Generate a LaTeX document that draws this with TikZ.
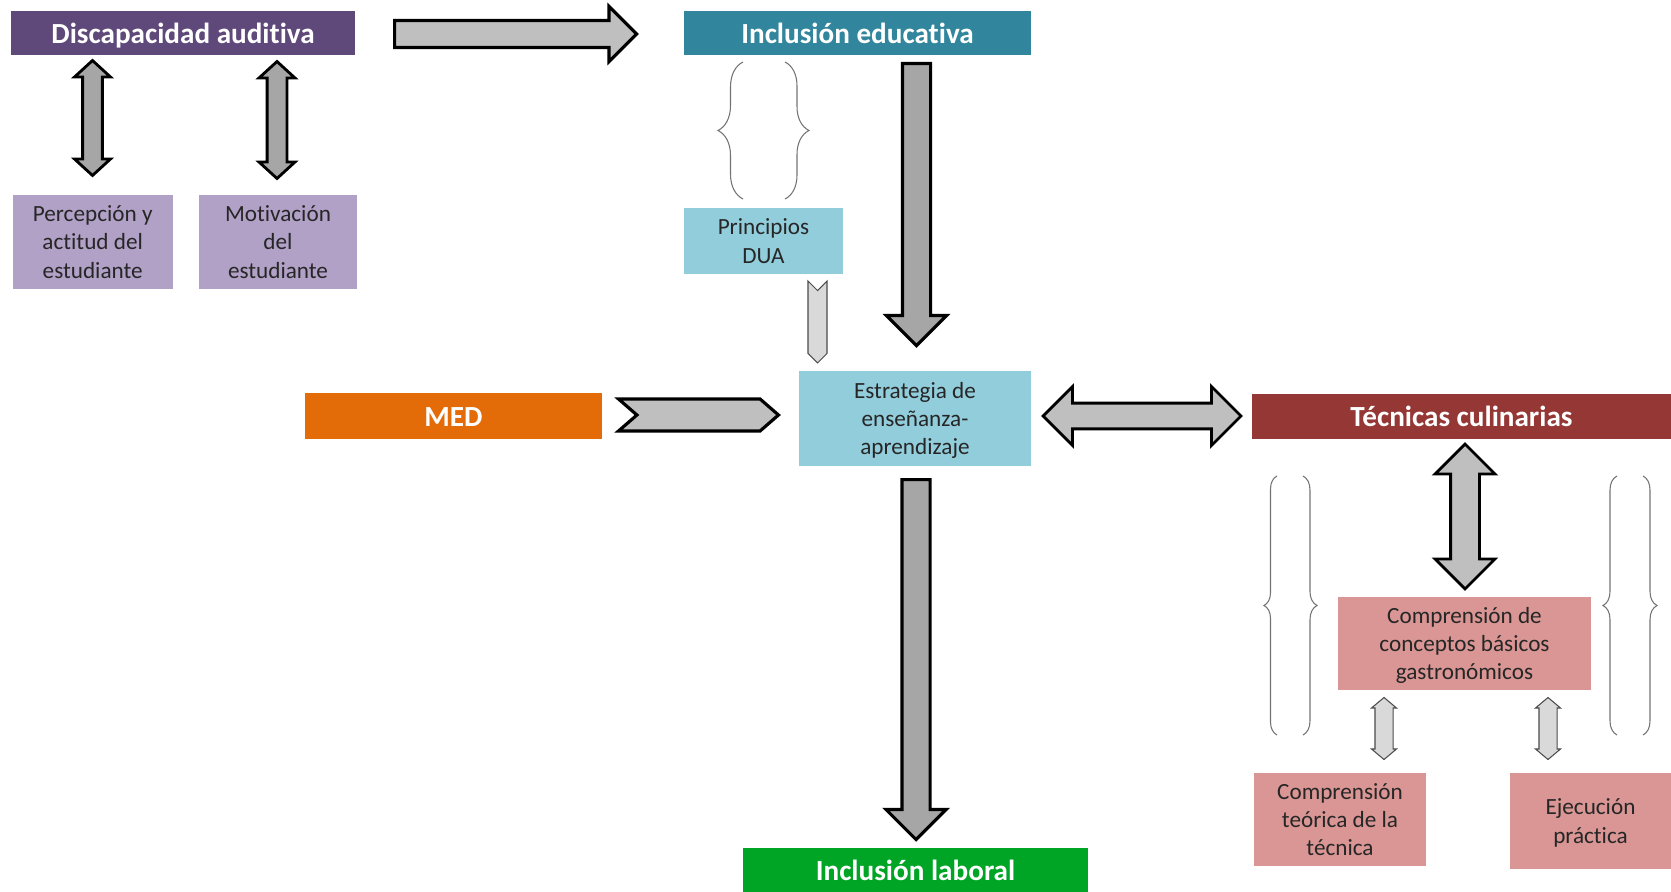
\documentclass[tikz,border=0pt]{standalone}
\usepackage{fontspec}
\setmainfont{Carlito}[Ligatures=NoCommon]
\usepackage{tikz}
\usetikzlibrary{shapes.arrows, shapes.symbols, decorations.pathreplacing}

\definecolor{morado}{HTML}{5F497A}
\definecolor{lila}{HTML}{B2A1C7}
\definecolor{azulosc}{HTML}{31859C}
\definecolor{celeste}{HTML}{92CDDC}
\definecolor{naranja}{HTML}{E36C09}
\definecolor{granate}{HTML}{953735}
\definecolor{rosa}{HTML}{D99694}
\definecolor{verde}{HTML}{00A525}
\definecolor{grisA}{HTML}{A6A6A6}
\definecolor{grisB}{HTML}{BFBFBF}
\definecolor{grisC}{HTML}{D9D9D9}
\definecolor{texto}{HTML}{262626}

\begin{document}
\begin{tikzpicture}[x=0.02cm, y=-0.02cm,
  titulo/.style={fill=#1, text=white, font=\fontsize{16.6}{19}\selectfont\bfseries, inner sep=0pt, text height=12.6pt, text depth=0.9pt},
  caja/.style={fill=#1, text=texto, font=\fontsize{13.2}{16.1}\selectfont, align=center, inner sep=0pt, text depth=0pt},
  flecha/.style={single arrow, draw=black, line width=1.8pt, fill=#1, inner xsep=0pt},
  dflecha/.style={double arrow, draw=black, line width=1.6pt, fill=#1, inner xsep=0pt},
  llave/.style={draw=black!55, line width=0.6pt, decorate, decoration={brace, amplitude=#1}}]
\useasboundingbox (0,0) rectangle (1671,892);

% cajas
\node[titulo=morado, minimum width=6.9cm, minimum height=0.9cm] (disc) at (183,33) {Discapacidad auditiva};
\node[titulo=azulosc, minimum width=6.94cm, minimum height=0.9cm] (edu) at (857.5,33) {Inclusión educativa};
\node[caja=lila, minimum width=3.2cm, minimum height=1.88cm] (perc) at (92.7,242) {Percepción y\\actitud del\\estudiante};
\node[caja=lila, minimum width=3.16cm, minimum height=1.88cm] (moti) at (278,242) {Motivación\\del\\estudiante};
\node[caja=celeste, minimum width=3.18cm, minimum height=1.32cm] (dua) at (763.5,241) {Principios\\DUA};
\node[titulo=naranja, minimum width=5.94cm, minimum height=0.92cm] (med) at (453.5,416) {MED};
\node[caja=celeste, minimum width=4.64cm, minimum height=1.9cm] (estr) at (915,418.5) {Estrategia de\\enseñanza-\\aprendizaje};
\node[titulo=granate, minimum width=8.38cm, minimum height=0.9cm] (tec) at (1461.5,416.5) {Técnicas culinarias};
\node[caja=rosa, minimum width=5.06cm, minimum height=1.86cm] (conc) at (1464.5,643.5) {Comprensión de\\conceptos básicos\\gastronómicos};
\node[caja=rosa, minimum width=3.44cm, minimum height=1.86cm] (teor) at (1340,819.5) {Comprensión\\teórica de la\\técnica};
\node[caja=rosa, minimum width=3.22cm, minimum height=1.92cm] (ejec) at (1590.5,821) {Ejecución\\práctica};
\node[titulo=verde, minimum width=6.9cm, minimum height=0.88cm] (lab) at (915.5,870) {Inclusión laboral};

% flechas
\node[flecha=grisB, anchor=tail, minimum height=4.84cm, inner ysep=0.24cm, single arrow head extend=0.28cm] (f1) at (393,34) {};
\node[dflecha=grisA, rotate=90, minimum height=2.3cm, inner ysep=0.17cm, double arrow head extend=0.16cm, double arrow tip angle=95] (f2) at (92.5,118) {};
\node[dflecha=grisA, rotate=90, minimum height=2.34cm, inner ysep=0.17cm, double arrow head extend=0.16cm, double arrow tip angle=95] (f3) at (277,120) {};
\node[flecha=grisA, rotate=-90, anchor=tail, minimum height=5.64cm, inner ysep=0.25cm, single arrow head extend=0.32cm] (f4) at (916.5,62) {};
\node[flecha=grisA, rotate=-90, anchor=tail, minimum height=7.2cm, inner ysep=0.25cm, single arrow head extend=0.32cm] (f5) at (916,478) {};
\node[dflecha=grisB, minimum height=3.96cm, inner ysep=0.23cm, double arrow head extend=0.33cm] (f6) at (1142,416) {};
\node[dflecha=grisB, rotate=90, minimum height=2.9cm, inner ysep=0.26cm, double arrow head extend=0.31cm] (f7) at (1465,516.5) {};
\node[dflecha=grisC, rotate=90, line width=0.6pt, draw=black!70, minimum height=1.24cm, inner ysep=0.17cm, double arrow head extend=0.07cm, double arrow tip angle=100] (f8) at (1384,728.5) {};
\node[dflecha=grisC, rotate=90, line width=0.6pt, draw=black!70, minimum height=1.24cm, inner ysep=0.17cm, double arrow head extend=0.07cm, double arrow tip angle=100] (f9) at (1548,728.5) {};
\node[signal, signal from=west, signal to=east, signal pointer angle=82, draw=black, line width=1.8pt, fill=grisB, inner sep=0pt, minimum width=3.2cm, minimum height=0.64cm] (f10) at (698.5,415) {};
\node[signal, signal from=north, signal to=south, draw=black!70, line width=0.6pt, fill=grisC, inner sep=0pt, minimum width=0.38cm, minimum height=1.26cm] (f11) at (817.5,322) {};

% llaves
\draw[llave=0.5cm] (743,199) -- (743,62);
\draw[llave=0.48cm] (785,62) -- (785,199);
\draw[llave=0.26cm] (1277,735) -- (1277,476);
\draw[llave=0.28cm] (1303,476) -- (1303,735);
\draw[llave=0.28cm] (1617,735) -- (1617,476);
\draw[llave=0.28cm] (1643,476) -- (1643,735);
\end{tikzpicture}
\end{document}
